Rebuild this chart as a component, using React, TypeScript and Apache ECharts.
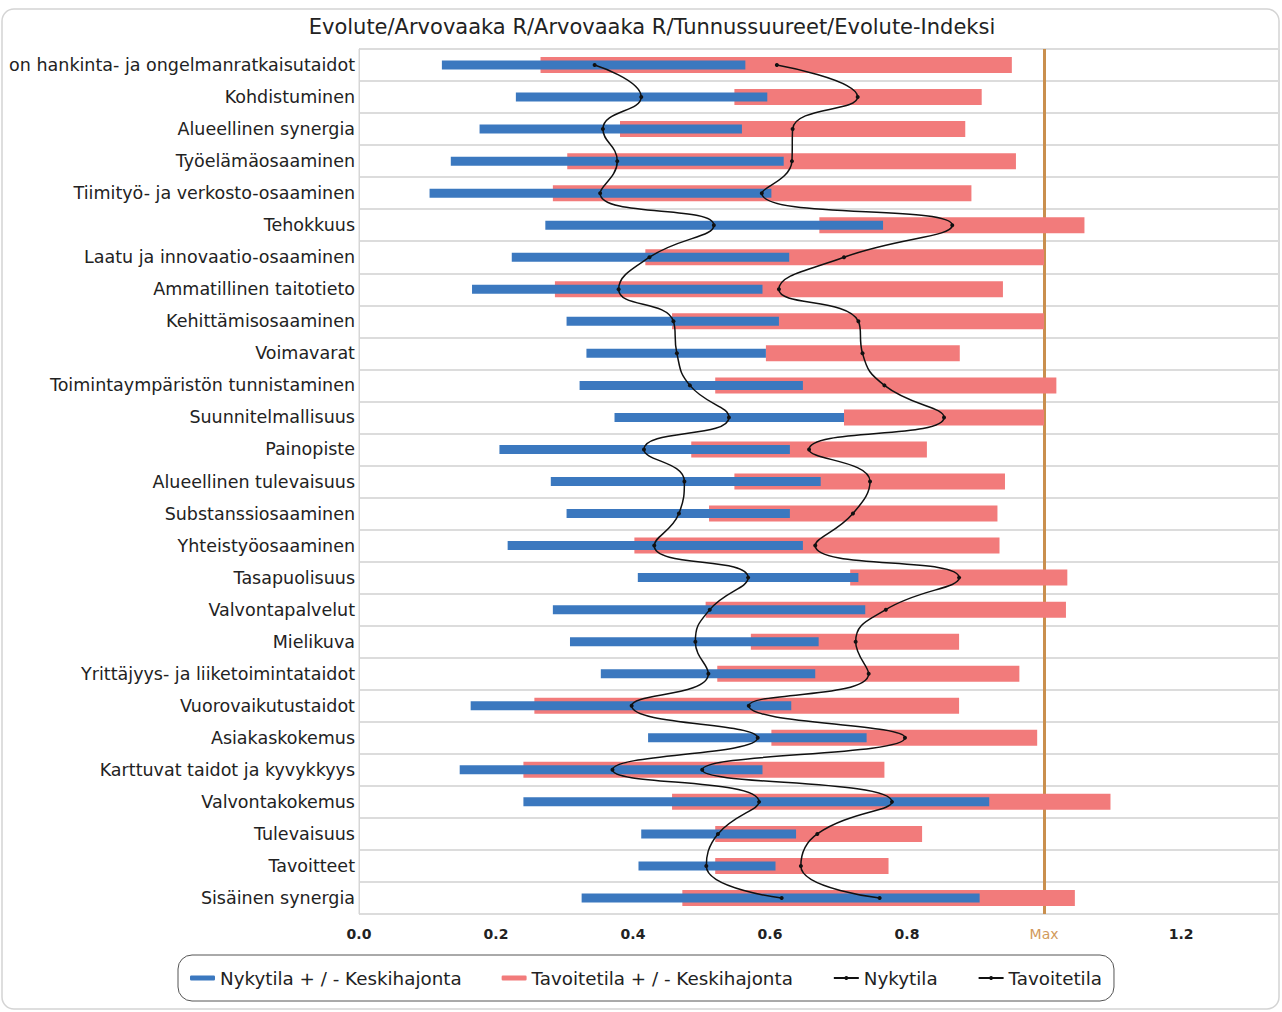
import React, { useEffect, useRef } from "react";
import * as echarts from "echarts";

const titleText = "Evolute/Arvovaaka R/Arvovaaka R/Tunnussuureet/Evolute-Indeksi";

const categories = [
  "on hankinta- ja ongelmanratkaisutaidot",
  "Kohdistuminen",
  "Alueellinen synergia",
  "Työelämäosaaminen",
  "Tiimityö- ja verkosto-osaaminen",
  "Tehokkuus",
  "Laatu ja innovaatio-osaaminen",
  "Ammatillinen taitotieto",
  "Kehittämisosaaminen",
  "Voimavarat",
  "Toimintaympäristön tunnistaminen",
  "Suunnitelmallisuus",
  "Painopiste",
  "Alueellinen tulevaisuus",
  "Substanssiosaaminen",
  "Yhteistyöosaaminen",
  "Tasapuolisuus",
  "Valvontapalvelut",
  "Mielikuva",
  "Yrittäjyys- ja liiketoimintataidot",
  "Vuorovaikutustaidot",
  "Asiakaskokemus",
  "Karttuvat taidot ja kyvykkyys",
  "Valvontakokemus",
  "Tulevaisuus",
  "Tavoitteet",
  "Sisäinen synergia",
];

const nykytila = [0.344, 0.412, 0.356, 0.377, 0.352, 0.518, 0.424, 0.379, 0.459, 0.464, 0.483, 0.540, 0.416, 0.475, 0.467, 0.431, 0.568, 0.512, 0.491, 0.510, 0.398, 0.582, 0.370, 0.584, 0.524, 0.507, 0.617];
const nykyLow = [0.121, 0.229, 0.176, 0.134, 0.103, 0.272, 0.223, 0.165, 0.303, 0.332, 0.322, 0.373, 0.205, 0.280, 0.303, 0.217, 0.407, 0.283, 0.308, 0.353, 0.163, 0.422, 0.147, 0.240, 0.412, 0.408, 0.325];
const nykyHigh = [0.564, 0.596, 0.559, 0.620, 0.602, 0.765, 0.628, 0.589, 0.613, 0.594, 0.648, 0.708, 0.629, 0.674, 0.629, 0.648, 0.729, 0.739, 0.671, 0.666, 0.631, 0.741, 0.589, 0.920, 0.638, 0.608, 0.906];

const tavoitetila = [0.610, 0.728, 0.633, 0.632, 0.588, 0.866, 0.708, 0.613, 0.729, 0.735, 0.767, 0.854, 0.657, 0.746, 0.721, 0.666, 0.876, 0.769, 0.725, 0.744, 0.569, 0.797, 0.501, 0.778, 0.669, 0.645, 0.760];
const tavoLow = [0.265, 0.548, 0.381, 0.304, 0.283, 0.672, 0.418, 0.286, 0.457, 0.594, 0.520, 0.708, 0.485, 0.548, 0.511, 0.402, 0.717, 0.506, 0.572, 0.523, 0.256, 0.602, 0.240, 0.457, 0.520, 0.520, 0.472];
const tavoHigh = [0.953, 0.909, 0.885, 0.959, 0.894, 1.059, 1.0, 0.940, 1.0, 0.877, 1.018, 1.0, 0.829, 0.943, 0.932, 0.935, 1.034, 1.032, 0.876, 0.964, 0.876, 0.990, 0.767, 1.097, 0.822, 0.773, 1.045];

const maxValue = 1.0;
const xTickLabels = ["0.0", "0.2", "0.4", "0.6", "0.8", "Max", "1.2"];

const names = {
  nykyRange: "Nykytila + / - Keskihajonta",
  tavoRange: "Tavoitetila + / - Keskihajonta",
  nyky: "Nykytila",
  tavo: "Tavoitetila",
};

const BLUE = "#3b78bf";
const RED = "#f27b7b";
const ORANGE = "#c98f4e";

function rangeRenderer(thickness: number, color: string) {
  return (params: any, api: any) => {
    const idx = params.dataIndex;
    const lo = api.value(0);
    const hi = api.value(1);
    const p0 = api.coord([lo, idx]);
    const p1 = api.coord([hi, idx]);
    return {
      type: "rect",
      shape: { x: p0[0], y: p0[1] - thickness / 2, width: p1[0] - p0[0], height: thickness },
      style: { fill: color },
    };
  };
}

export default function App() {
  const ref = useRef<HTMLDivElement>(null);
  useEffect(() => {
    document.body.style.margin = "0";
    const chart = echarts.init(ref.current!, null, { renderer: "svg" });
    const option: any = {
      animation: false,
      backgroundColor: "#ffffff",
      title: {
        text: titleText,
        left: 647,
        textAlign: "center",
        top: 11,
        textStyle: { fontFamily: "DejaVu Sans", fontSize: 21, fontWeight: "normal", color: "#222" },
      },
      graphic: [
        {
          type: "rect",
          shape: { x: 2, y: 9, width: 1277, height: 1000, r: 12 },
          style: { fill: "none", stroke: "#d4d4d4", lineWidth: 1.5 },
          silent: true,
          z: -1,
        },
      ],
      legend: {
        left: 178,
        top: 955,
        padding: [14, 12, 14, 12],
        itemGap: 40,
        itemWidth: 25,
        itemHeight: 5,
        borderColor: "#555",
        borderWidth: 1,
        borderRadius: 14,
        backgroundColor: "#fff",
        textStyle: { fontFamily: "DejaVu Sans", fontSize: 18.3, color: "#222" },
        data: [
          { name: names.nykyRange, icon: "roundRect" },
          { name: names.tavoRange, icon: "roundRect" },
          { name: names.nyky },
          { name: names.tavo },
        ],
      },
      grid: {
        left: 359,
        right: 2,
        top: 49,
        bottom: 98,
        show: true,
        borderColor: "#d6d6d6",
        borderWidth: 1,
      },
      xAxis: {
        type: "value",
        min: 0,
        max: 1.343,
        interval: 0.2,
        axisLine: { show: false },
        axisTick: { show: false },
        splitLine: { show: false },
        axisLabel: {
          margin: 13,
          fontFamily: "DejaVu Sans",
          fontSize: 14,
          fontWeight: "bold",
          color: "#222",
          formatter: (v: number) => {
            const k = v / 0.2;
            if (Math.abs(k - Math.round(k)) > 1e-6) return "";
            const i = Math.round(k);
            if (i >= xTickLabels.length) return "";
            if (xTickLabels[i] === "Max") return "{max|Max}";
            return xTickLabels[i];
          },
          rich: {
            max: { color: "#d29a5c", fontFamily: "DejaVu Sans", fontSize: 14, fontWeight: "normal" },
          },
        },
      },
      yAxis: {
        type: "category",
        data: categories,
        inverse: true,
        axisLine: { show: true, lineStyle: { color: "#d6d6d6" } },
        axisTick: { show: false },
        splitLine: { show: true, lineStyle: { color: "#dcdcdc", width: 2 } },
        axisLabel: {
          margin: 4,
          fontFamily: "DejaVu Sans",
          fontSize: 17.5,
          color: "#222",
        },
      },
      series: [
        {
          name: names.tavoRange,
          type: "custom",
          renderItem: rangeRenderer(16, RED),
          itemStyle: { color: RED },
          dimensions: ["lo", "hi"],
          encode: { x: [0, 1] },
          data: categories.map((c, i) => [tavoLow[i], tavoHigh[i]]),
          z: 2,
        },
        {
          name: names.nykyRange,
          type: "custom",
          renderItem: rangeRenderer(9, BLUE),
          itemStyle: { color: BLUE },
          dimensions: ["lo", "hi"],
          encode: { x: [0, 1] },
          data: categories.map((c, i) => [nykyLow[i], nykyHigh[i]]),
          z: 3,
        },
        {
          name: names.nyky,
          type: "line",
          data: nykytila,
          smooth: true,
          symbol: "circle",
          symbolSize: 4,
          lineStyle: { color: "#111", width: 1.5 },
          itemStyle: { color: "#111" },
          z: 5,
          markLine: {
            silent: true,
            symbol: "none",
            label: { show: false },
            lineStyle: { color: ORANGE, width: 3, type: "solid" },
            data: [{ xAxis: maxValue }],
            z: 1,
          },
        },
        {
          name: names.tavo,
          type: "line",
          data: tavoitetila,
          smooth: true,
          symbol: "circle",
          symbolSize: 4,
          lineStyle: { color: "#111", width: 1.5 },
          itemStyle: { color: "#111" },
          z: 5,
        },
      ],
    };
    chart.setOption(option);
    return () => chart.dispose();
  }, []);
  return (
    <div
      ref={ref}
      style={{ position: "fixed", left: 0, top: 0, width: 1282, height: 1012 }}
    />
  );
}
